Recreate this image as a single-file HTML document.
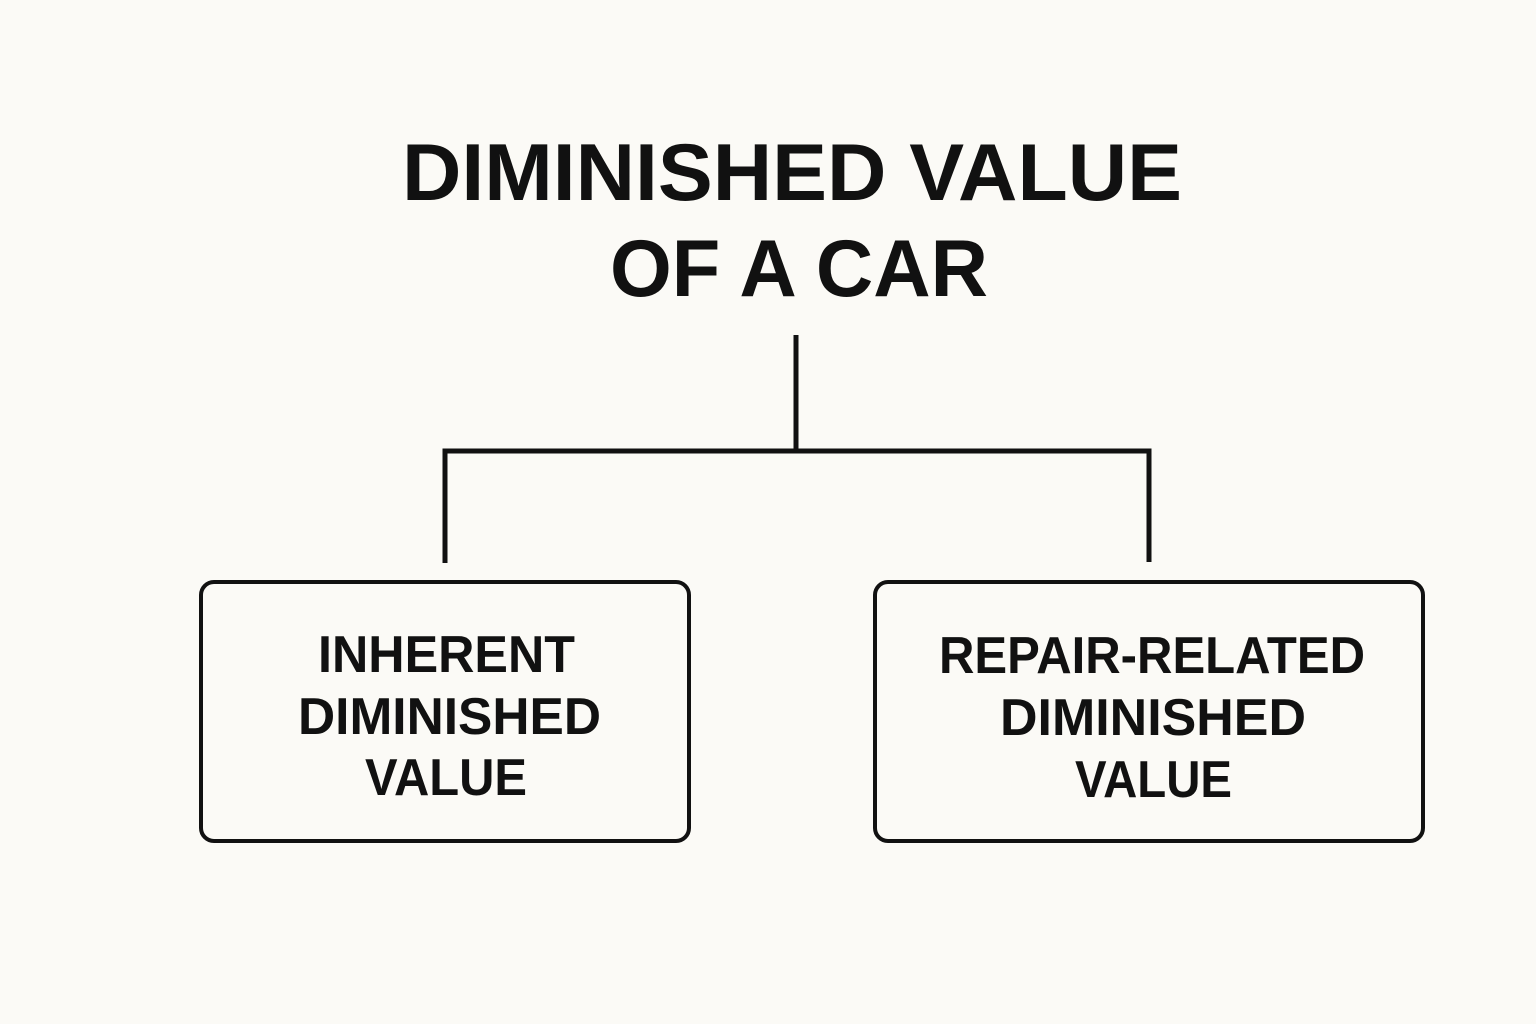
<!DOCTYPE html>
<html>
<head>
<meta charset="utf-8">
<style>
  html, body { margin: 0; padding: 0; background: #fbfaf6; }
  body { width: 1536px; height: 1024px; overflow: hidden; }
  svg { display: block; }
  text { font-family: "Liberation Sans", Arial, sans-serif; font-weight: bold; fill: #111111; }
</style>
</head>
<body>
<svg width="1536" height="1024" viewBox="0 0 1536 1024" xmlns="http://www.w3.org/2000/svg">
  <rect x="0" y="0" width="1536" height="1024" fill="#fbfaf6"/>

  <!-- Title -->
  <text x="402" y="200" font-size="81" textLength="780" lengthAdjust="spacingAndGlyphs">DIMINISHED VALUE</text>
  <text x="610" y="296" font-size="81" textLength="378" lengthAdjust="spacingAndGlyphs">OF A CAR</text>

  <!-- Connectors -->
  <g stroke="#111111" stroke-width="5" fill="none" stroke-linecap="butt">
    <line x1="796" y1="335" x2="796" y2="451"/>
    <polyline points="445,563 445,451 1149,451 1149,562" stroke-linejoin="miter"/>
  </g>

  <!-- Boxes -->
  <g stroke="#111111" stroke-width="4" fill="none">
    <rect x="201" y="582" width="488" height="259" rx="13" ry="13"/>
    <rect x="875" y="582" width="548" height="259" rx="13" ry="13"/>
  </g>

  <!-- Left box text -->
  <text x="318" y="672" font-size="52" textLength="257" lengthAdjust="spacingAndGlyphs">INHERENT</text>
  <text x="298" y="734" font-size="52" textLength="303" lengthAdjust="spacingAndGlyphs">DIMINISHED</text>
  <text x="365" y="795" font-size="52" textLength="162" lengthAdjust="spacingAndGlyphs">VALUE</text>

  <!-- Right box text -->
  <text x="939" y="673" font-size="52" textLength="426" lengthAdjust="spacingAndGlyphs">REPAIR-RELATED</text>
  <text x="1000" y="735" font-size="52" textLength="306" lengthAdjust="spacingAndGlyphs">DIMINISHED</text>
  <text x="1075" y="797" font-size="52" textLength="157" lengthAdjust="spacingAndGlyphs">VALUE</text>
</svg>
</body>
</html>
